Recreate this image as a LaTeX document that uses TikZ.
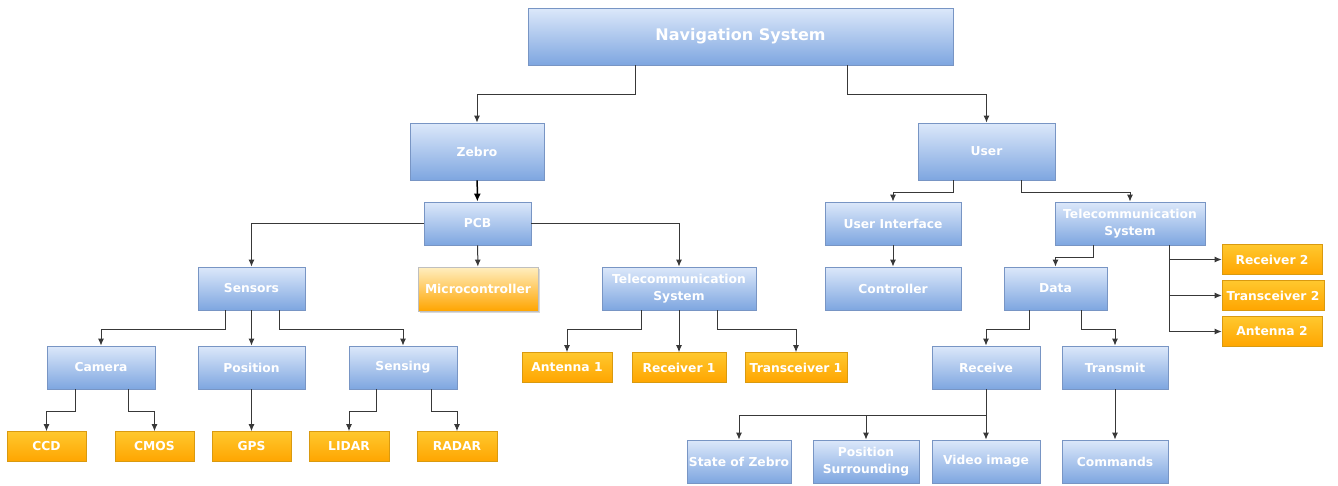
\documentclass[tikz,border=0pt]{standalone}
\usepackage{fontspec}
\setmainfont{DejaVu Sans}
\usetikzlibrary{arrows.meta,shadows}
\definecolor{bluetop}{HTML}{DCE8FA}
\definecolor{bluebot}{HTML}{7EA6E0}
\definecolor{blueedge}{HTML}{7895C4}
\definecolor{orgtop}{HTML}{FFC82E}
\definecolor{orgbot}{HTML}{FFA500}
\definecolor{orgedge}{HTML}{D99A10}
\definecolor{linec}{HTML}{383838}
\tikzset{
  bx/.style={inner sep=0pt, align=center, text=white,
    font=\bfseries\fontsize{12.3}{16.5}\selectfont},
  bluebox/.style={bx, draw=blueedge, line width=0.8pt, top color=bluetop, bottom color=bluebot,
    minimum width=#1, minimum height=43pt},
  bluebox/.default=108pt,
  orgbox/.style={bx, draw=orgedge, line width=0.6pt, top color=orgtop, bottom color=orgbot,
    minimum width=#1, minimum height=30pt},
  orgbox/.default=80pt,
  arr/.style={draw=linec, line width=1pt, -{Latex[length=7pt,width=6pt]}},
  arrthick/.style={draw=black, line width=1.5pt, -{Latex[length=8pt,width=7pt]}}
}
\begin{document}
\begin{tikzpicture}[x=1pt,y=-1pt]
\useasboundingbox (0,0) rectangle (1338,485);

% root
\node[bluebox=425pt, minimum height=57pt, font=\bfseries\fontsize{16}{18}\selectfont] (nav) at (740.5,36.5) {Navigation System};

% second level
\node[bluebox=134pt, minimum height=57pt] (zebro) at (477,151.5) {Zebro};
\node[bluebox=137pt, minimum height=57pt] (user) at (986.5,151.5) {User};

% Zebro branch
\node[bluebox=107pt] (pcb) at (477.5,223.5) {PCB};
\node[bluebox=107pt] (sensors) at (251.5,288.5) {Sensors};
\node[bx, draw=black!25, line width=0.8pt, top color=white!70!orgtop, bottom color=orgbot,
      minimum width=120pt, minimum height=44pt, drop shadow={opacity=0.3,shadow xshift=1.5pt,shadow yshift=-1.5pt}]
      (micro) at (478,289) {Microcontroller};
\node[bluebox=154pt] (tel1) at (679,288.5) {Telecommunication\\System};

\node[bluebox=108pt] (camera) at (101,367.5) {Camera};
\node[bluebox=107pt] (position) at (251.5,367.5) {Position};
\node[bluebox=108pt] (sensing) at (403,367.5) {Sensing};

\node[orgbox=79pt] (ccd) at (46.5,446.5) {CCD};
\node[orgbox=79pt] (cmos) at (154.5,446.5) {CMOS};
\node[orgbox=79pt] (gps) at (251.5,446.5) {GPS};
\node[orgbox=80pt] (lidar) at (349,446.5) {LIDAR};
\node[orgbox=80pt] (radar) at (457,446.5) {RADAR};

\node[orgbox=90pt] (ant1) at (567,367.5) {Antenna 1};
\node[orgbox=94pt] (rec1) at (679,367.5) {Receiver 1};
\node[orgbox=102pt] (trx1) at (796,367.5) {Transceiver 1};

% User branch
\node[bluebox=136pt] (ui) at (893,223.5) {User Interface};
\node[bluebox=150pt] (tel2) at (1130,223.5) {Telecommunication\\System};
\node[bluebox=136pt] (ctrl) at (893,288.5) {Controller};
\node[bluebox=103pt] (data) at (1055.5,288.5) {Data};

\node[orgbox=100pt] (rec2) at (1272,259.5) {Receiver 2};
\node[orgbox=102pt] (trx2) at (1273,295.5) {Transceiver 2};
\node[orgbox=100pt] (ant2) at (1272,331.5) {Antenna 2};

\node[bluebox=108pt] (receive) at (986,367.5) {Receive};
\node[bluebox=106pt] (transmit) at (1115,367.5) {Transmit};

\node[bluebox=104pt] (state) at (739,461.5) {State of Zebro};
\node[bluebox=106pt] (possur) at (866,461.5) {Position\\Surrounding};
\node[bluebox=108pt] (video) at (986,461.5) {Video image};
\node[bluebox=106pt] (cmds) at (1115,461.5) {Commands};

% connectors
\draw[arr] ([xshift=-105.5pt]nav.south) -- ++(0,29) -| (zebro.north);
\draw[arr] ([xshift=106.5pt]nav.south) -- ++(0,29) -| (user.north);

\draw[arrthick] (zebro) -- (pcb);
\draw[arr] (pcb.west) -| (sensors.north);
\draw[arr] (pcb.east) -| (tel1.north);
\draw[arr] (pcb) -- (micro);

\draw[arr] ([xshift=-26.5pt]sensors.south) -- ++(0,19) -| (camera.north);
\draw[arr] (sensors) -- (position);
\draw[arr] ([xshift=27.5pt]sensors.south) -- ++(0,19) -| (sensing.north);

\draw[arr] ([xshift=-26pt]camera.south) -- ++(0,22) -| (ccd.north);
\draw[arr] ([xshift=27pt]camera.south) -- ++(0,22) -| (cmos.north);
\draw[arr] (position) -- (gps);
\draw[arr] ([xshift=-27pt]sensing.south) -- ++(0,22) -| (lidar.north);
\draw[arr] ([xshift=28pt]sensing.south) -- ++(0,22) -| (radar.north);

\draw[arr] ([xshift=-38pt]tel1.south) -- ++(0,19) -| (ant1.north);
\draw[arr] (tel1) -- (rec1);
\draw[arr] ([xshift=38pt]tel1.south) -- ++(0,19) -| (trx1.north);

\draw[arr] ([xshift=-33.5pt]user.south) -- ++(0,12) -| (ui.north);
\draw[arr] ([xshift=34.5pt]user.south) -- ++(0,12) -| (tel2.north);
\draw[arr] (ui) -- (ctrl);

\draw[arr] ([xshift=-37pt]tel2.south) -- ++(0,12) -| (data.north);
\draw[arr] ([xshift=39pt]tel2.south) |- (rec2.west);
\draw[arr] ([xshift=39pt]tel2.south) |- (trx2.west);
\draw[arr] ([xshift=39pt]tel2.south) |- (ant2.west);

\draw[arr] ([xshift=-26.5pt]data.south) -- ++(0,19) -| (receive.north);
\draw[arr] ([xshift=25.5pt]data.south) -- ++(0,19) -| (transmit.north);

\draw[arr] (receive.south) -- ++(0,26) -| (state.north);
\draw[arr] (receive.south) -- ++(0,26) -| (possur.north);
\draw[arr] (receive) -- (video);
\draw[arr] (transmit) -- (cmds);
\end{tikzpicture}
\end{document}
